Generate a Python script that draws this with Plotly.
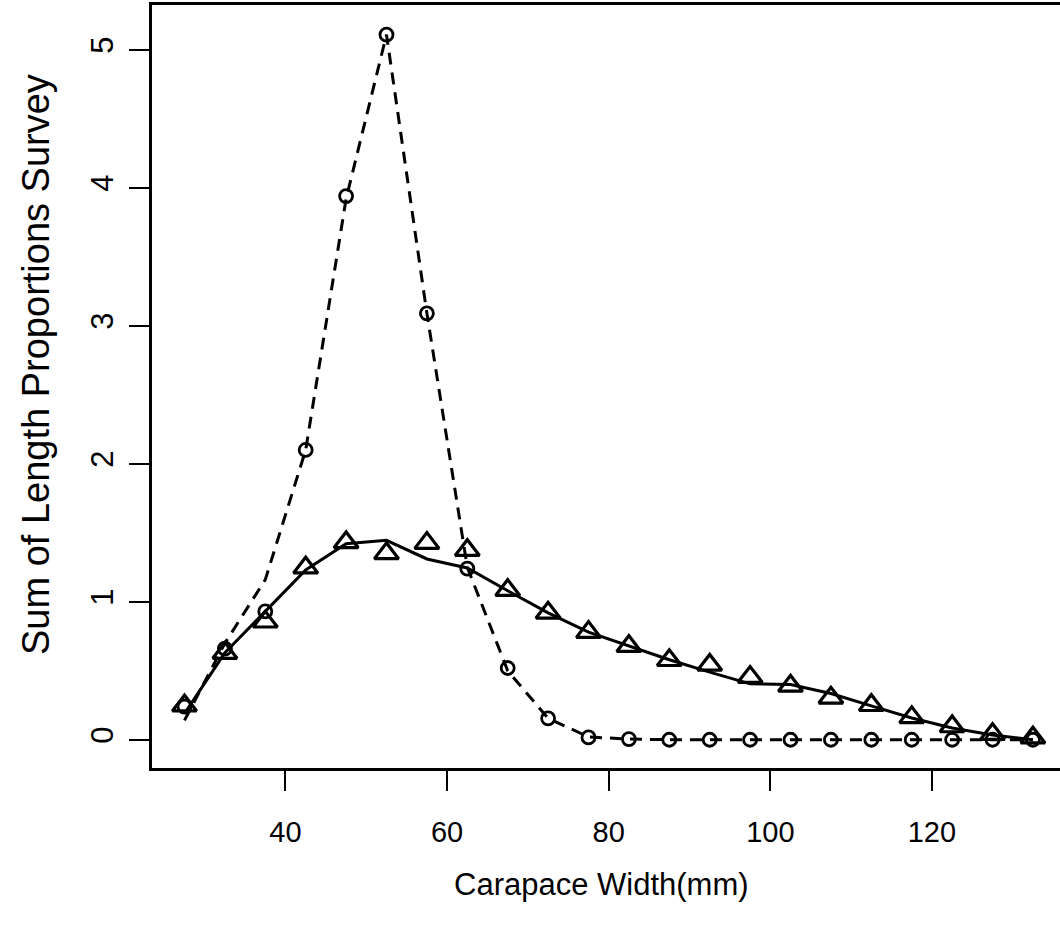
import plotly.graph_objects as go

# Carapace width bins (mm)
width_mm = [27.5, 32.5, 37.5, 42.5, 47.5, 52.5, 57.5, 62.5, 67.5, 72.5, 77.5,
            82.5, 87.5, 92.5, 97.5, 102.5, 107.5, 112.5, 117.5, 122.5, 127.5, 132.5]

# circles (observed, series 1)
circle_obs = [0.24, 0.66, 0.93, 2.10, 3.94, 5.11, 3.09, 1.24, 0.52, 0.155, 0.017,
              0.005, 0.0, 0.0, 0.0, 0.0, 0.0, 0.0, 0.0, 0.0, 0.0, 0.0]
# dashed line (series 1)
dashed_line = [0.14, 0.70, 1.16, 2.10, 3.92, 5.11, 3.09, 1.25, 0.50, 0.155, 0.02,
               0.005, 0.0, 0.0, 0.0, 0.0, 0.0, 0.0, 0.0, 0.0, 0.0, 0.0]
# triangles (observed, series 2)
triangle_obs = [0.247, 0.628, 0.855, 1.247, 1.43, 1.35, 1.425, 1.374, 1.084, 0.92, 0.78,
                0.678, 0.576, 0.542, 0.454, 0.39, 0.304, 0.25, 0.162, 0.096, 0.04, 0.015]
# solid line (series 2)
solid_line = [0.19, 0.63, 0.93, 1.23, 1.42, 1.445, 1.31, 1.245, 1.08, 0.92, 0.78,
              0.68, 0.58, 0.49, 0.405, 0.40, 0.335, 0.245, 0.158, 0.085, 0.035, 0.0]

x_ticks = [40, 60, 80, 100, 120]
y_ticks = [0, 1, 2, 3, 4, 5]

fig = go.Figure()
fig.add_trace(go.Scatter(x=width_mm, y=dashed_line, mode="lines",
                         line=dict(color="black", width=3, dash="12px,8px"),
                         showlegend=False))
fig.add_trace(go.Scatter(x=width_mm, y=solid_line, mode="lines",
                         line=dict(color="black", width=3),
                         showlegend=False))
fig.add_trace(go.Scatter(x=width_mm, y=circle_obs, mode="markers",
                         marker=dict(symbol="circle-open", size=13, color="black",
                                     line=dict(width=2.8, color="black")),
                         showlegend=False))
fig.add_trace(go.Scatter(x=width_mm, y=triangle_obs, mode="markers",
                         marker=dict(symbol="triangle-up-open", size=21, color="black",
                                     line=dict(width=3.2, color="black")),
                         showlegend=False))

L, R, T, B = 152, 0, 5, 161
W, H = 1060, 929
pw, ph = W - L - R, H - T - B

fig.update_layout(
    width=W, height=H,
    margin=dict(l=L, r=R, t=T, b=B, pad=0),
    paper_bgcolor="white", plot_bgcolor="white",
    showlegend=False,
    xaxis=dict(range=[23.48, 135.85], tickvals=x_ticks, ticks="outside",
               ticklen=20, tickwidth=2, tickcolor="black",
               showline=True, linewidth=2.8, linecolor="black", mirror=True,
               showgrid=False, zeroline=False,
               tickfont=dict(family="Liberation Sans", size=29, color="black"),
               ticklabelstandoff=16),
    yaxis=dict(range=[-0.2048, 5.3248], tickvals=y_ticks, ticks="outside",
               ticklen=20, tickwidth=2, tickcolor="black", tickangle=-90,
               showline=True, linewidth=2.8, linecolor="black", mirror=False,
               showgrid=False, zeroline=False,
               tickfont=dict(family="Liberation Sans", size=31, color="black"),
               ticklabelstandoff=4),
    annotations=[
        dict(text="Carapace Width(mm)", xref="paper", yref="paper",
             x=(601 - L) / pw, y=(H - B - 885) / ph, xanchor="center", yanchor="middle",
             showarrow=False,
             font=dict(family="Liberation Sans", size=31, color="black")),
        dict(text="Sum of Length Proportions Survey", xref="paper", yref="paper",
             x=(36 - L) / pw, y=(H - B - 365) / ph, xanchor="center", yanchor="middle",
             textangle=-90, showarrow=False,
             font=dict(family="Liberation Sans", size=38, color="black")),
    ],
)

fig.write_html("out.html")
